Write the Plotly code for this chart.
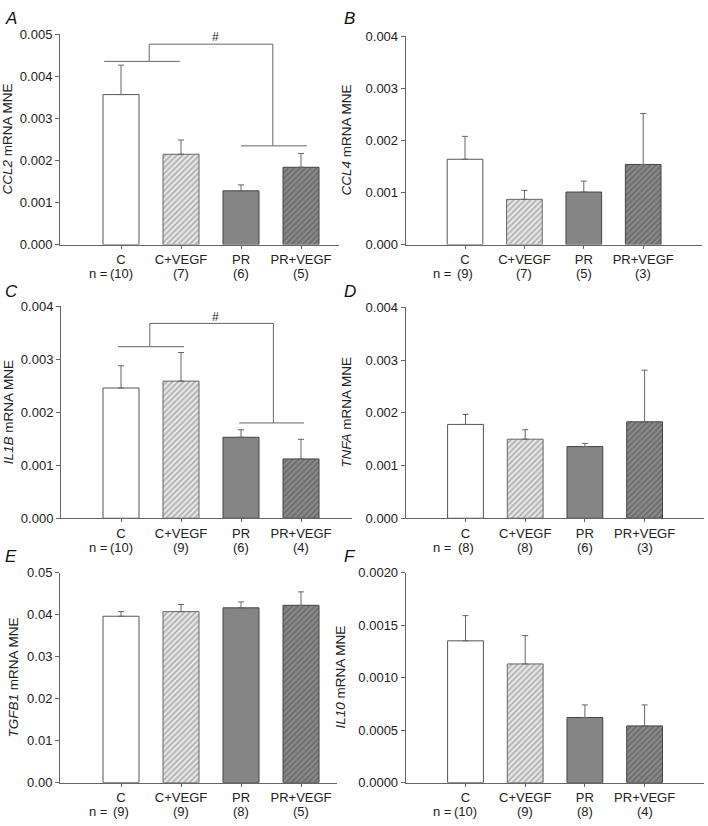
import plotly.graph_objects as go

W, H = 708, 826

# ---------------- data ----------------
groups = ["C", "C+VEGF", "PR", "PR+VEGF"]
genes = ["CCL2", "CCL4", "IL1B", "TNFA", "TGFB1", "IL10"]
letters = ["A", "B", "C", "D", "E", "F"]

ccl2_mean = [0.00357, 0.00215, 0.00128, 0.00184]
ccl2_sem = [0.00070, 0.00034, 0.00014, 0.00033]
ccl2_n = [10, 7, 6, 5]

ccl4_mean = [0.00164, 0.00087, 0.00101, 0.00154]
ccl4_sem = [0.00044, 0.00017, 0.00021, 0.00098]
ccl4_n = [9, 7, 5, 3]

il1b_mean = [0.00246, 0.00259, 0.00153, 0.00112]
il1b_sem = [0.00042, 0.00054, 0.00014, 0.00037]
il1b_n = [10, 9, 6, 4]

tnfa_mean = [0.00178, 0.00150, 0.00136, 0.00183]
tnfa_sem = [0.00019, 0.00018, 0.00006, 0.00098]
tnfa_n = [8, 8, 6, 3]

tgfb1_mean = [0.0396, 0.0407, 0.0416, 0.0422]
tgfb1_sem = [0.0011, 0.0017, 0.0014, 0.0032]
tgfb1_n = [9, 9, 8, 5]

il10_mean = [0.00135, 0.00113, 0.00062, 0.00054]
il10_sem = [0.00024, 0.00027, 0.00012, 0.00020]
il10_n = [10, 9, 8, 4]

y_max = [0.005, 0.004, 0.004, 0.004, 0.05, 0.002]
y_dtick = [0.001, 0.001, 0.001, 0.001, 0.01, 0.0005]
y_format = [".3f", ".3f", ".3f", ".3f", ".2f", ".4f"]

means = [ccl2_mean, ccl4_mean, il1b_mean, tnfa_mean, tgfb1_mean, il10_mean]
sems = [ccl2_sem, ccl4_sem, il1b_sem, tnfa_sem, tgfb1_sem, il10_sem]
ns = [ccl2_n, ccl4_n, il1b_n, tnfa_n, tgfb1_n, il10_n]

# significance brackets (panel index -> segments in data units)
# (left_x0, left_x1, left_y, drop_x_left, top_y, drop_x_right, right_y, right_x0, right_x1, label_x, label_y)
brackets = {
    0: (-0.28, 0.98, 0.00436, 0.47, 0.00477, 2.53, 0.00235, 2.00, 3.10, 1.58, 0.00495),
    2: (-0.05, 1.05, 0.00324, 0.48, 0.00368, 2.54, 0.00180, 1.97, 3.05, 1.58, 0.00381),
}

# ---------------- layout (pixels) ----------------
# x0, x1, y_top, y_bottom, first bar centre, bar spacing, title x, letter x, letter y, "n =" x
geom = [
    (60, 339, 28, 242, 121, 60.0, 8, 3, 12, 87),
    (405.7, 702, 30, 242, 465, 59.4, 347, 342, 12, 431),
    (61, 352, 305, 520.7, 121, 60.0, 8, 3, 290, 87),
    (405.7, 704, 306, 520.7, 465.5, 59.7, 347, 342, 290, 431),
    (60, 337, 576, 790, 121, 60.0, 14, 3, 560, 87),
    (405.7, 704, 576, 790, 465.5, 59.7, 341, 342, 560, 431),
]

FONT = "Liberation Sans, Arial, sans-serif"
AX = "#666666"
TXT = "#222222"

def px(x):
    return x / W

def py(y):
    return 1 - y / H

bar_styles = [
    dict(color="#ffffff", line=dict(color="#555555", width=1)),
    dict(color="#d8d8d8", line=dict(color="#666666", width=1),
         pattern=dict(shape="/", bgcolor="#ebebeb", fgcolor="#7c7c7c", size=4, solidity=0.5)),
    dict(color="#858585", line=dict(color="#444444", width=1)),
    dict(color="#7a7a7a", line=dict(color="#444444", width=1),
         pattern=dict(shape="/", bgcolor="#8c8c8c", fgcolor="#4c4c4c", size=4, solidity=0.5)),
]

fig = go.Figure()
annotations = []
layout = {}

for k in range(6):
    x0, x1, yt, yb, c0, s, tx, lx, ly, nx = geom[k]
    xa = "x" if k == 0 else f"x{k+1}"
    ya = "y" if k == 0 else f"y{k+1}"
    xkey = "xaxis" if k == 0 else f"xaxis{k+1}"
    ykey = "yaxis" if k == 0 else f"yaxis{k+1}"

    for i, g in enumerate(groups):
        st = bar_styles[i]
        fig.add_trace(go.Bar(
            x=[i], y=[means[k][i]], width=0.6, xaxis=xa, yaxis=ya,
            marker=st, showlegend=False,
            error_y=dict(type="data", symmetric=False, array=[sems[k][i]],
                         arrayminus=[0], color="#666666", thickness=1, width=3),
        ))

    layout[xkey] = dict(
        domain=[px(x0), px(x1)], anchor=ya,
        range=[(x0 - c0) / s, (x1 - c0) / s],
        tickvals=list(range(4)), ticktext=groups,
        showline=True, linecolor=AX, linewidth=1, mirror=False,
        ticks="outside", ticklen=3, tickcolor=AX,
        showgrid=False, zeroline=False,
        tickfont=dict(family=FONT, size=13, color=TXT),
        fixedrange=True,
    )
    layout[ykey] = dict(
        domain=[py(yb), py(yt)], anchor=xa,
        range=[0, y_max[k]], tick0=0, dtick=y_dtick[k], tickformat=y_format[k],
        showline=True, linecolor=AX, linewidth=1,
        ticks="outside", ticklen=4, tickcolor=AX,
        showgrid=False, zeroline=False,
        tickfont=dict(family=FONT, size=13, color=TXT),
        fixedrange=True,
    )

    # n counts
    for i in range(4):
        annotations.append(dict(
            x=i, xref=xa, y=py(yb + 29.5), yref="paper",
            text=f"({ns[k][i]})", showarrow=False, xanchor="center", yanchor="middle",
            font=dict(family=FONT, size=13, color=TXT),
        ))
    annotations.append(dict(
        x=px(nx), xref="paper", y=py(yb + 29.5), yref="paper",
        text="n =", showarrow=False, xanchor="left", yanchor="middle",
        font=dict(family=FONT, size=13, color=TXT),
    ))

    # y titles
    annotations.append(dict(
        x=px(tx), xref="paper", y=py((yt + yb) / 2), yref="paper",
        text=f"<i>{genes[k]}</i> mRNA MNE", textangle=-90, showarrow=False,
        xanchor="center", yanchor="middle",
        font=dict(family=FONT, size=13.5, color=TXT),
    ))
    # panel letters
    annotations.append(dict(
        x=px(lx), xref="paper", y=py(ly), yref="paper",
        text=f"<i>{letters[k]}</i>", showarrow=False, xanchor="left", yanchor="middle",
        font=dict(family=FONT, size=17, color="#111111"),
    ))

    if k in brackets:
        lx0, lx1, ly0, dxl, ty, dxr, ry, rx0, rx1, hx, hy = brackets[k]
        bx = [lx0, lx1, None, dxl, dxl, dxr, dxr, None, rx0, rx1]
        by = [ly0, ly0, None, ly0, ty, ty, ry, None, ry, ry]
        fig.add_trace(go.Scatter(
            x=bx, y=by, mode="lines", xaxis=xa, yaxis=ya, showlegend=False,
            line=dict(color="#666666", width=1), hoverinfo="skip", cliponaxis=False,
        ))
        annotations.append(dict(
            x=hx, xref=xa, y=hy, yref=ya, text="#", showarrow=False,
            xanchor="center", yanchor="middle",
            font=dict(family=FONT, size=12, color=TXT),
        ))

fig.update_layout(
    width=W, height=H, margin=dict(l=0, r=0, t=0, b=0),
    paper_bgcolor="white", plot_bgcolor="white",
    barmode="overlay", showlegend=False,
    annotations=annotations, font=dict(family=FONT, color=TXT),
    **layout,
)

fig.write_html(
    "out.html",
    config={"displayModeBar": False},
    post_script="document.body.style.margin='0';document.body.style.padding='0';document.body.style.overflow='hidden';",
)
